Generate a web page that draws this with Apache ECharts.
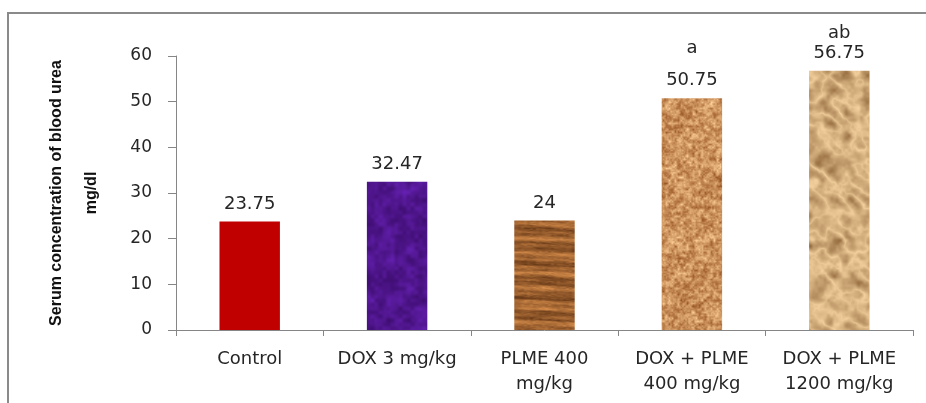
<!DOCTYPE html>
<html>
<head>
<meta charset="utf-8">
<script src="https://cdn.jsdelivr.net/npm/echarts@6/dist/echarts.min.js"></script>
<style>
html,body{margin:0;padding:0;background:#fff;}
#c{width:926px;height:403px;}
</style>
</head>
<body>
<div id="c"></div>
<script>
// ---- data ----
var categories = ['Control', 'DOX 3 mg/kg', 'PLME 400\nmg/kg', 'DOX + PLME\n400 mg/kg', 'DOX + PLME\n1200 mg/kg'];
var values = [23.75, 32.47, 24, 50.75, 56.75];
var valueLabels = ['23.75', '32.47', '24', '50.75', '56.75'];
var significance = ['', '', '', 'a', 'ab'];
var yTicks = [0, 10, 20, 30, 40, 50, 60];

// ---- textures (decorative fills, deterministic) ----
function hash(x, y, s) {
  var h = Math.sin(x * 12.9898 + y * 78.233 + s * 37.719) * 43758.5453;
  return h - Math.floor(h);
}
function smooth(x, y, s, scale) {
  var gx = x / scale, gy = y / scale;
  var x0 = Math.floor(gx), y0 = Math.floor(gy);
  var fx = gx - x0, fy = gy - y0;
  fx = fx * fx * (3 - 2 * fx); fy = fy * fy * (3 - 2 * fy);
  var a = hash(x0, y0, s), b = hash(x0 + 1, y0, s), c = hash(x0, y0 + 1, s), d = hash(x0 + 1, y0 + 1, s);
  return (a * (1 - fx) + b * fx) * (1 - fy) + (c * (1 - fx) + d * fx) * fy;
}
// texture covers only the horizontal band [x0,x1) where it is used, full height
function makeTexture(x0, x1, fn) {
  var w = 926, h = 403;
  var cv = document.createElement('canvas');
  cv.width = w; cv.height = h;
  var ctx = cv.getContext('2d');
  var img = ctx.createImageData(w, h);
  for (var y = 0; y < h; y++) {
    for (var x = x0; x < x1; x++) {
      var c = fn(x, y);
      var i = (y * w + x) * 4;
      img.data[i] = Math.max(0, Math.min(255, c[0]));
      img.data[i + 1] = Math.max(0, Math.min(255, c[1]));
      img.data[i + 2] = Math.max(0, Math.min(255, c[2]));
      img.data[i + 3] = 255;
    }
  }
  ctx.putImageData(img, 0, 0);
  return { image: cv, repeat: 'no-repeat' };
}
var purpleTex = makeTexture(340, 460, function (x, y) {
  var n = smooth(x, y, 1, 10) * 0.6 + smooth(x, y, 2, 4) * 0.4;
  var k = (n - 0.5) * 70;
  return [80 + k * 0.6, 22 + k * 0.3, 142 + k];
});
var woodTex = makeTexture(490, 600, function (x, y) {
  var yy = y + Math.sin(x * 0.04) * 1.5;
  var band = Math.sin(yy * 0.9) * 0.3 + Math.sin(yy * 0.37 + 1.3) * 0.4 + (smooth(x * 0.1, yy, 3, 1.7) - 0.5) * 0.8;
  var fine = (smooth(x, yy * 3, 4, 3) - 0.5) * 0.3;
  var t = 0.5 + band * 0.6 + fine;
  return [110 + t * 90, 62 + t * 68, 26 + t * 42];
});
var corkTex = makeTexture(640, 750, function (x, y) {
  var n = smooth(x, y, 4, 3) * 0.5 + smooth(x, y, 5, 1.5) * 0.3 + smooth(x, y, 6, 8) * 0.2;
  var k = (n - 0.5) * 150;
  return [202 + k * 0.8, 145 + k * 0.95, 92 + k * 0.9];
});
var paperTex = makeTexture(790, 890, function (x, y) {
  var u = x * 0.8 + y * 0.6, v = -x * 0.6 + y * 0.8;
  var n = smooth(u, v * 1.8, 7, 18) * 0.6 + smooth(u, v, 8, 8) * 0.3 + smooth(x, y, 9, 3) * 0.1;
  var fold = Math.abs(n - 0.5) * 2;
  var k = (0.4 - fold) * 120 + (smooth(x, y, 10, 6) - 0.5) * 30;
  return [194 + k * 0.8, 156 + k * 0.85, 108 + k * 0.8];
});
var fills = ['#c00000', purpleTex, woodTex, corkTex, paperTex];
var sigLineHeights = { 'a': 44, 'ab': 20 };

var seriesData = values.map(function (v, i) {
  var item = { value: v, itemStyle: { color: fills[i] } };
  if (significance[i]) {
    item.label = {
      show: true,
      position: 'top',
      distance: 8,
      formatter: '{sig|' + significance[i] + '}\n{val|' + valueLabels[i] + '}',
      rich: {
        sig: { fontFamily: 'DejaVu Sans', fontSize: 18, color: '#262626', lineHeight: sigLineHeights[significance[i]] },
        val: { fontFamily: 'DejaVu Sans', fontSize: 18, color: '#262626', lineHeight: 20 }
      }
    };
  }
  return item;
});

var chart = echarts.init(document.getElementById('c'));
chart.setOption({
  animation: false,
  backgroundColor: '#ffffff',
  graphic: [{
    type: 'rect',
    shape: { x: 8, y: 13, width: 960, height: 440 },
    style: { fill: 'none', stroke: '#8a8a8a', lineWidth: 2 },
    silent: true,
    z: -10
  }],
  grid: { left: 176, right: 13, top: 56, bottom: 73, containLabel: false },
  xAxis: {
    type: 'category',
    data: categories,
    axisLine: { lineStyle: { color: '#868686', width: 1 } },
    axisTick: { show: true, alignWithLabel: false, length: 6, lineStyle: { color: '#868686' } },
    axisLabel: {
      interval: 0,
      margin: 17,
      fontFamily: 'DejaVu Sans',
      fontSize: 18,
      lineHeight: 25,
      color: '#262626'
    }
  },
  yAxis: {
    type: 'value',
    min: yTicks[0],
    max: yTicks[yTicks.length - 1],
    interval: 10,
    name: 'Serum concentration of blood urea\nmg/dl',
    nameLocation: 'middle',
    nameRotate: 90,
    nameGap: 67,
    nameTextStyle: {
      fontFamily: 'Liberation Sans',
      fontSize: 16,
      fontWeight: 'bold',
      color: '#111',
      lineHeight: 35,
      align: 'center'
    },
    axisLine: { show: true, lineStyle: { color: '#868686', width: 1 } },
    axisTick: { show: true, length: 8, lineStyle: { color: '#868686' } },
    splitLine: { show: false },
    axisLabel: {
      margin: 24,
      fontFamily: 'DejaVu Sans',
      fontSize: 17,
      color: '#262626'
    }
  },
  series: [{
    type: 'bar',
    data: seriesData,
    barWidth: '41%',
    label: {
      show: true,
      position: 'top',
      distance: 8,
      fontFamily: 'DejaVu Sans',
      fontSize: 18,
      color: '#262626',
      formatter: function (p) { return valueLabels[p.dataIndex]; }
    }
  }]
});
</script>
</body>
</html>
